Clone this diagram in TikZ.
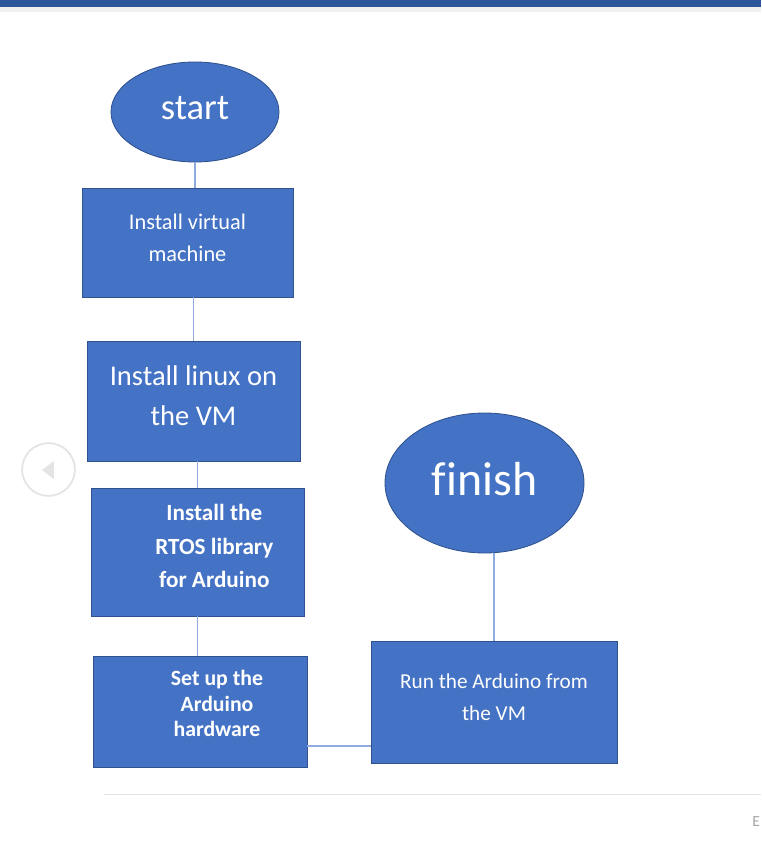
\documentclass[tikz,border=0pt]{standalone}
\usepackage{fontspec}
\setmainfont{Carlito}[Ligatures=CommonOff]
\usetikzlibrary{positioning}
\usetikzlibrary{shapes.geometric}
\definecolor{boxblue}{HTML}{4472C4}
\definecolor{edgeblue}{HTML}{2F528F}
\definecolor{linkblue}{HTML}{8FAADC}
\definecolor{barblue}{HTML}{2B579A}
\definecolor{navgray}{HTML}{E4E4E4}
\tikzset{proc/.style={draw=edgeblue, line width=0.6pt, fill=boxblue, text=white, align=center, inner sep=0pt, text depth=0.25cm}}
\tikzset{term/.style={ellipse, draw=edgeblue, line width=0.6pt, fill=boxblue, text=white, inner sep=0pt, text depth=0.2cm}}
\tikzset{link/.style={draw=linkblue, line width=1pt}}
\tikzset{boldtext/.style={text=white, align=center, font=\bfseries\fontsize{16.5}{24}\selectfont}}

\begin{document}
\begin{tikzpicture}
\useasboundingbox (0,0) rectangle (19.025,-21.575);
% slide frame
\fill[barblue] (0,0) rectangle (19.025,-0.175);
\fill[gray!12] (0,-0.175) rectangle (19.025,-0.3);
\draw[navgray, line width=1.3pt] (1.2125,-11.7375) circle (0.66);
\fill[navgray] (1.05,-11.75) -- (1.35,-11.52) -- (1.35,-11.98) -- cycle;
\draw[navgray, line width=1pt] (2.6,-19.86) -- (19.025,-19.86);
\node[text=gray!70, font=\fontsize{11}{13}\selectfont, anchor=east, inner sep=0.5pt] (pg) at (19.025,-20.55) {E};

\begin{scope}[on grid]
\node[term, minimum width=4.2cm, minimum height=2.5cm,
  font=\fontsize{26}{30}\selectfont] (start) at (4.875,-2.8) {start};

\node[proc, minimum width=5.275cm, minimum height=2.725cm,
  font=\fontsize{15.9}{22.8}\selectfont]
  (vm) [below left = 3.2625 and 0.1875 of start] {Install virtual\\machine};

\node[proc, minimum width=5.325cm, minimum height=3cm,
  font=\fontsize{20.3}{28.5}\selectfont]
  (linux) [below right = 3.9625 and 0.15 of vm] {Install linux on\\the VM};

\node[proc, minimum width=5.325cm, minimum height=3.2cm,
  label={[boldtext, xshift=0.42cm, yshift=0.15cm]center:Install the\\RTOS library\\for Arduino}]
  (rtos) [below right = 3.775 and 0.1 of linux] {};

\node[proc, minimum width=5.35cm, minimum height=2.775cm,
  label={[boldtext, font=\bfseries\fontsize{15.5}{18.2}\selectfont, xshift=0.425cm, yshift=0.2cm]center:Set up the\\Arduino\\hardware}]
  (hw) [below right = 3.9875 and 0.0625 of rtos] {};

\node[proc, minimum width=6.15cm, minimum height=3.05cm,
  font=\fontsize{15.1}{22.8}\selectfont]
  (run) [above right = 0.2375 and 7.35 of hw] {Run the Arduino from\\the VM};

\node[term, minimum width=4.975cm, minimum height=3.5cm,
  font=\fontsize{34}{40}\selectfont]
  (finish) [above left = 5.475 and 0.2375 of run] {finish};
\end{scope}

\draw[link] (start.south) -- (start.south |- vm.north);
\draw[link] (linux.north) -- (linux.north |- vm.south);
\draw[link] (rtos.north) -- (rtos.north |- linux.south);
\draw[link] (rtos.south) -- (rtos.south |- hw.north);
\draw[link] ([yshift=-0.8625cm]hw.east) -- ([yshift=-0.8625cm]hw.east -| run.west);
\draw[link] (finish.south -| run.north) -- (run.north);
\end{tikzpicture}
\end{document}
